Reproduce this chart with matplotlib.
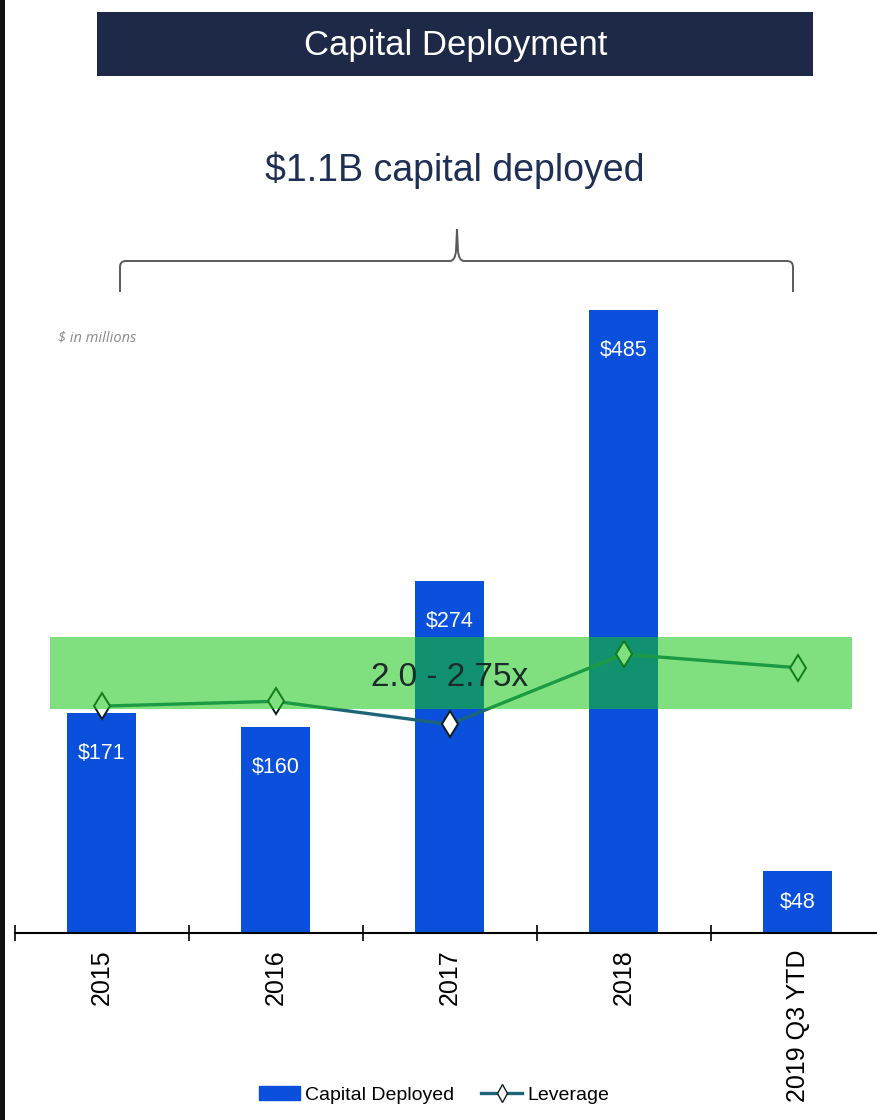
import numpy as np
import matplotlib.pyplot as plt
import matplotlib.patches as mpatches
from matplotlib.path import Path
from matplotlib.lines import Line2D

# data
years = ['2015', '2016', '2017', '2018', '2019 Q3 YTD']
capital = [171, 160, 274, 485, 48]
leverage = [2.03, 2.08, 1.84, 2.57, 2.43]
target_low, target_high = 2.0, 2.75

font = 'Liberation Sans'

W, H = 878, 1120
fig = plt.figure(figsize=(W / 100, H / 100), dpi=100)
fig.patch.set_facecolor('white')


def fx(px):
    return px / W


def fy(py):
    return 1 - py / H


# dark strip on the left edge
fig.add_artist(mpatches.Rectangle((0, 0), fx(5), 1, transform=fig.transFigure,
                                  facecolor='#111111', edgecolor='none'))

# header bar
fig.add_artist(mpatches.Rectangle((fx(97), fy(76)), fx(813 - 97), (76 - 12) / H,
                                  transform=fig.transFigure,
                                  facecolor='#1e2847', edgecolor='none'))
fig.text(fx(456), fy(45), 'Capital Deployment', color='white', fontsize=25,
         family=font, ha='center', va='center')

fig.text(fx(455), fy(170), '$1.1B capital deployed', color='#1e2f55', fontsize=27,
         family=font, ha='center', va='center')

# curly brace above the bars
l, r, m, yb, yh, yt = 120, 793, 457, 292, 261, 229
verts = [(l, yb), (l, yh + 6), (l, yh), (l + 6, yh),
         (m - 7, yh), (m - 2, yh), (m - 1, yh - 10), (m, yt),
         (m + 1, yh - 10), (m + 2, yh), (m + 7, yh),
         (r - 6, yh), (r, yh), (r, yh + 6), (r, yb)]
codes = [Path.MOVETO, Path.LINETO, Path.CURVE3, Path.CURVE3,
         Path.LINETO, Path.CURVE3, Path.CURVE3, Path.LINETO,
         Path.LINETO, Path.CURVE3, Path.CURVE3,
         Path.LINETO, Path.CURVE3, Path.CURVE3, Path.LINETO]
brace = Path([(fx(x), fy(y)) for x, y in verts], codes)
fig.add_artist(mpatches.PathPatch(brace, transform=fig.transFigure, facecolor='none',
                                  edgecolor='#5a5a5a', linewidth=1.4))

fig.text(fx(58), fy(338), '$ in millions', color='#8a8a8a', fontsize=10.5,
         family='Open Sans', style='italic', ha='left', va='center')

# main axes
left_px, right_px, bottom_px, top_px = 14.5, 884.5, 933, 300
ax = fig.add_axes([fx(left_px), fy(bottom_px), (right_px - left_px) / W,
                   (bottom_px - top_px) / H])
x = np.arange(len(years))
bar_color = '#0a50dc'
bars = ax.bar(x, capital, width=0.4, color=bar_color, zorder=2)
ax.set_xlim(-0.5, 4.5)
px_per_unit = 623 / 485
ax.set_ylim(0, (bottom_px - top_px) / px_per_unit)

for xi, v in zip(x, capital):
    off = min(40, v * px_per_unit / 2) * 0.72
    ax.annotate(f'${v}', (xi, v), xytext=(0, -off), textcoords='offset points',
                ha='center', va='center', color='white', fontsize=15.5,
                family=font, zorder=5)

for s in ['left', 'right', 'top']:
    ax.spines[s].set_visible(False)
ax.spines['bottom'].set_linewidth(1.5)
ax.set_yticks([])
ax.set_xticks(np.arange(-0.5, 5, 1))
ax.set_xticklabels([])
ax.tick_params(axis='x', which='major', direction='inout', length=12, width=1.2)
ax.set_xticks(x, minor=True)
ax.set_xticklabels(years, minor=True, rotation=90, fontsize=18,
                   family=font, va='top')
ax.tick_params(axis='x', which='minor', length=0, pad=12)
ax.patch.set_alpha(0)

# leverage on a hidden second scale
ax2 = ax.twinx()
lev_px = 72 / 0.75
lev_bottom = target_low - (bottom_px - 709) / lev_px
lev_top = target_low + (709 - top_px) / lev_px
ax2.set_ylim(lev_bottom, lev_top)
ax2.set_yticks([])
for s in ['left', 'right', 'top', 'bottom']:
    ax2.spines[s].set_visible(False)

line_color = '#1e6478'
ax2.plot(x, leverage, color=line_color, linewidth=2.4, marker='d', markersize=13,
         markerfacecolor='white', markeredgecolor='#0d1f1f', markeredgewidth=1.4,
         zorder=3)
band_x = [(50 - 101.5) / 174, (852 - 101.5) / 174]
ax2.fill_between(band_x, target_low, target_high, color='#19c819', alpha=0.55,
                 linewidth=0, zorder=4)
ax2.text(np.mean(band_x) - 0.01, (target_low + target_high) / 2 - 0.05, '2.0 - 2.75x',
         ha='center', va='center', fontsize=24, family=font, color='#1b2b2b', zorder=6)

# legend under the axis labels
handles = [mpatches.Patch(color=bar_color),
           Line2D([], [], color=line_color, linewidth=2.4, marker='d', markersize=9,
                  markerfacecolor='white', markeredgecolor='#0d1f1f')]
fig.legend(handles, ['Capital Deployed', 'Leverage'], loc='center',
           bbox_to_anchor=(fx(434), fy(1095)), ncol=2, frameon=False,
           prop={'family': font, 'size': 14}, handlelength=2.1,
           handletextpad=0.25, columnspacing=1.4)

fig.savefig('out.png', dpi=100)
